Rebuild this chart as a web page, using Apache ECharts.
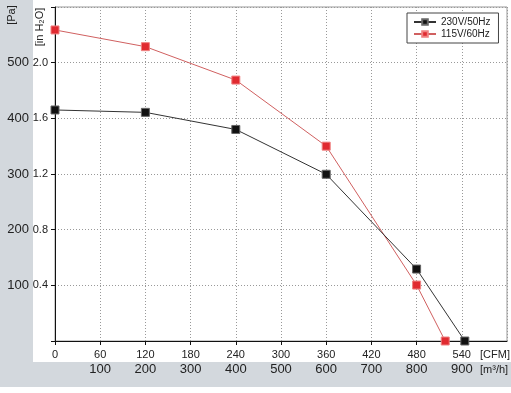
<!DOCTYPE html>
<html><head><meta charset="utf-8">
<script src="https://cdn.jsdelivr.net/npm/echarts@6/dist/echarts.min.js"></script>
<style>html,body{margin:0;padding:0;background:#fff}#c{width:511px;height:393px}</style>
</head><body><div id="c"></div>
<script>
// Data (CFM, inH2O)
const seriesNames = ['230V/50Hz', '115V/60Hz'];
const cfm230 = [0, 120, 240, 360, 480, 544];
const p230 = [1.66, 1.643, 1.52, 1.198, 0.517, 0];
const cfm115 = [0, 120, 240, 360, 480, 518];
const p115 = [2.235, 2.115, 1.875, 1.40, 0.402, 0];
const paLabels = ['100', '200', '300', '400', '500'];
const m3hLabels = ['100', '200', '300', '400', '500', '600', '700', '800', '900'];

const FONT = 'Liberation Sans, Arial, sans-serif';
const chart = echarts.init(document.getElementById('c'));
const pair = (xs, ys) => xs.map((x, i) => [x, ys[i]]);

chart.setOption({
  animation: false,
  graphic: [
    { type: 'rect', shape: { x: 0, y: 0, width: 33, height: 362 }, style: { fill: '#d3d8dd' }, z: -10 },
    { type: 'rect', shape: { x: 0, y: 362, width: 511, height: 25 }, style: { fill: '#d3d8dd' }, z: -10 },
    { type: 'text', x: 12, y: 15, rotation: Math.PI / 2, style: { text: '[Pa]', font: '11px ' + FONT, fill: '#222', align: 'center', verticalAlign: 'middle' } },
    { type: 'text', x: 40, y: 27, rotation: Math.PI / 2, style: { text: '[in H\u2082O]', font: '11px ' + FONT, fill: '#222', align: 'center', verticalAlign: 'middle' } },
    { type: 'text', x: 480, y: 355, style: { text: '[CFM]', font: '11px ' + FONT, fill: '#222', verticalAlign: 'middle' } },
    { type: 'text', x: 480, y: 370, style: { text: '[m\u00b3/h]', font: '11px ' + FONT, fill: '#222', verticalAlign: 'middle' } }
  ],
  grid: { left: 55, top: 7, right: 4, bottom: 52, show: true, borderColor: '#999', borderWidth: 1, backgroundColor: 'transparent' },
  legend: {
    left: 407, top: 13, orient: 'vertical', backgroundColor: '#fff', borderColor: '#444', borderWidth: 1,
    padding: [4, 8, 4, 6], itemGap: 2, itemWidth: 22, itemHeight: 7,
    textStyle: { fontFamily: FONT, fontSize: 10, color: '#222' },
    data: seriesNames
  },
  xAxis: [
    {
      type: 'value', min: 0, max: 600, interval: 60, position: 'bottom',
      axisLine: { show: true, lineStyle: { color: '#111', width: 1 } },
      axisTick: { show: true, length: 4, lineStyle: { color: '#111' } },
      axisLabel: { fontFamily: FONT, fontSize: 11, color: '#222', margin: 8, showMaxLabel: false },
      splitLine: { show: true, lineStyle: { color: '#999', type: [1, 2] } }
    },
    {
      type: 'value', min: 0, max: 600, interval: 60, position: 'bottom', offset: 0,
      axisLine: { show: false }, axisTick: { show: false }, splitLine: { show: false },
      axisLabel: {
        fontFamily: FONT, fontSize: 13, color: '#222', margin: 22,
        formatter: v => { const i = Math.round(v / 60) - 1; return (i >= 0 && i < m3hLabels.length) ? m3hLabels[i] : ''; }
      }
    }
  ],
  yAxis: [
    {
      type: 'value', min: 0, max: 2.4, interval: 0.4, position: 'left',
      axisLine: { show: true, lineStyle: { color: '#111', width: 1 } },
      axisTick: { show: true, length: 4, lineStyle: { color: '#111' } },
      axisLabel: { fontFamily: FONT, fontSize: 11, color: '#222', margin: 7,
        formatter: v => (v > 0.01 && v < 2.39) ? v.toFixed(1) : '' },
      splitLine: { show: true, lineStyle: { color: '#999', type: [1, 2] } }
    },
    {
      type: 'value', min: 0, max: 600, interval: 100, position: 'left', offset: 26,
      axisLine: { show: false }, axisTick: { show: false }, splitLine: { show: false },
      axisLabel: { fontFamily: FONT, fontSize: 13, color: '#222', margin: 0,
        formatter: v => paLabels.indexOf(String(v)) >= 0 ? String(v) : '' }
    }
  ],
  series: [
    {
      name: seriesNames[0], type: 'line', xAxisIndex: 0, yAxisIndex: 0,
      data: pair(cfm230, p230), symbol: 'rect', symbolSize: 8,
      lineStyle: { color: '#333', width: 1 },
      itemStyle: { color: '#111', borderColor: '#666', borderWidth: 1 }, z: 3
    },
    {
      name: seriesNames[1], type: 'line', xAxisIndex: 0, yAxisIndex: 0,
      data: pair(cfm115, p115), symbol: 'rect', symbolSize: 8,
      lineStyle: { color: '#d06060', width: 1 },
      itemStyle: { color: '#e02a30', borderColor: '#f08080', borderWidth: 1 }, z: 2
    }
  ]
});
</script></body></html>
